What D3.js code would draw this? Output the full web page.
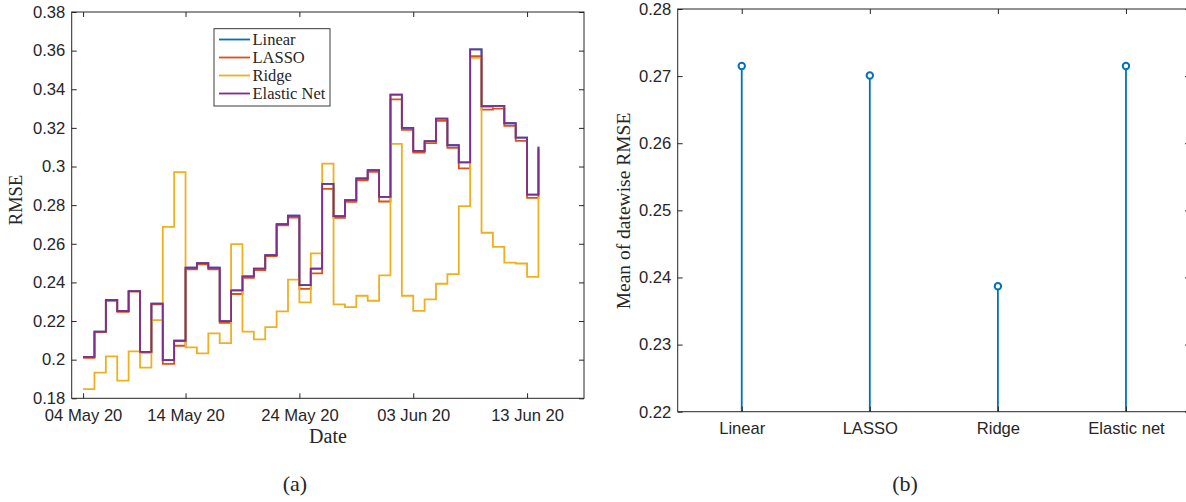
<!DOCTYPE html>
<html>
<head>
<meta charset="utf-8">
<script src="https://cdn.jsdelivr.net/npm/d3@7"></script>
<style>
  body { margin: 0; background: #fff; }
  svg { display: block; }
  .tick text { font-family: "Liberation Sans", Arial, sans-serif; font-size: 16.6px; fill: #262626; }
  .tick line { stroke: #262626; }
  .lbl { font-family: "Liberation Serif", "Times New Roman", serif; fill: #262626; }
</style>
</head>
<body>
<div id="chart"></div>
<script>
// ---- data ----
const seriesNames = ["Linear", "LASSO", "Ridge", "Elastic Net"];
const seriesColors = ["#0072BD", "#D95319", "#EDB120", "#7E2F8E"];

// one value per day, starting at day 1 of the axis
const linearRmse = [0.2014, 0.2145, 0.2309, 0.2252, 0.2355, 0.2040, 0.2290, 0.1998, 0.2098, 0.2476,
  0.2500, 0.2476, 0.2200, 0.2359, 0.2431, 0.2471, 0.2541, 0.2702, 0.2745, 0.2386,
  0.2471, 0.2910, 0.2743, 0.2826, 0.2938, 0.2981, 0.2843, 0.3372, 0.3200, 0.3081,
  0.3131, 0.3248, 0.3110, 0.3021, 0.3607, 0.3312, 0.3314, 0.3224, 0.3150, 0.2855, 0.3102];
const lassoRmse = [0.2010, 0.2143, 0.2305, 0.2248, 0.2352, 0.2036, 0.2286, 0.1978, 0.2072, 0.2467,
  0.2493, 0.2467, 0.2190, 0.2340, 0.2424, 0.2464, 0.2536, 0.2695, 0.2736, 0.2367,
  0.2447, 0.2884, 0.2734, 0.2817, 0.2929, 0.2972, 0.2819, 0.3348, 0.3190, 0.3072,
  0.3121, 0.3236, 0.3097, 0.2990, 0.3571, 0.3295, 0.3300, 0.3210, 0.3133, 0.2838, 0.3090];
const ridgeRmse = [0.1847, 0.1933, 0.2017, 0.1891, 0.2043, 0.1959, 0.2205, 0.2688, 0.2971, 0.2064,
  0.2033, 0.2136, 0.2086, 0.2598, 0.2145, 0.2105, 0.2169, 0.2250, 0.2414, 0.2297,
  0.2550, 0.3015, 0.2286, 0.2272, 0.2331, 0.2305, 0.2436, 0.3117, 0.2331, 0.2253,
  0.2312, 0.2393, 0.2443, 0.2795, 0.3562, 0.2657, 0.2584, 0.2502, 0.2498, 0.2429, 0.2843];
const elasticRmse = [0.2014, 0.2145, 0.2309, 0.2252, 0.2355, 0.2040, 0.2290, 0.1998, 0.2098, 0.2476,
  0.2500, 0.2476, 0.2200, 0.2359, 0.2431, 0.2471, 0.2541, 0.2702, 0.2745, 0.2386,
  0.2471, 0.2910, 0.2743, 0.2826, 0.2938, 0.2981, 0.2843, 0.3372, 0.3200, 0.3081,
  0.3131, 0.3248, 0.3110, 0.3021, 0.3607, 0.3312, 0.3314, 0.3224, 0.3150, 0.2855, 0.3102];

const dateTickDays = [1, 10, 20, 30, 40];
const dateTickLabels = ["04 May 20", "14 May 20", "24 May 20", "03 Jun 20", "13 Jun 20"];
const rmseTicks = [0.18, 0.2, 0.22, 0.24, 0.26, 0.28, 0.3, 0.32, 0.34, 0.36, 0.38];

const modelNames = ["Linear", "LASSO", "Ridge", "Elastic net"];
const meanRmse = [0.2715, 0.2701, 0.2387, 0.2715];
const meanTicks = [0.22, 0.23, 0.24, 0.25, 0.26, 0.27, 0.28];

// ---- layout ----
const W = 1186, H = 502;
const A = {left: 71.7, right: 584, top: 12, bottom: 398.3};
const B = {left: 677.7, right: 1190, top: 9, bottom: 411.7};
const axisColor = "#262626";
const fmt = v => String(+v.toFixed(2));

const svg = d3.select("#chart").append("svg")
  .attr("width", W)
  .attr("height", H);

function box(g, r) {
  g.append("rect")
    .attr("x", r.left).attr("y", r.top)
    .attr("width", r.right - r.left).attr("height", r.bottom - r.top)
    .attr("fill", "none").attr("stroke", axisColor).attr("stroke-width", 1);
}

function cleanAxis(g) {
  g.select(".domain").remove();
  g.selectAll(".tick line").attr("stroke", axisColor);
}

// ================= (a) stairs =================
const gA = svg.append("g");
const xA = d3.scaleLinear().domain([0, 45]).range([A.left, A.right]);
const yA = d3.scaleLinear().domain([0.18, 0.38]).range([A.bottom, A.top]);
const days = d3.range(1, linearRmse.length + 1);

const allSeries = [linearRmse, lassoRmse, ridgeRmse, elasticRmse];
const stair = d3.line()
  .x(d => xA(d[0]))
  .y(d => yA(d[1]))
  .curve(d3.curveStepAfter);

allSeries.forEach((vals, i) => {
  gA.append("path")
    .datum(days.map((d, k) => [d, vals[k]]))
    .attr("d", stair)
    .attr("fill", "none")
    .attr("stroke", seriesColors[i])
    .attr("stroke-width", 1.8);
});

gA.append("g").attr("transform", `translate(0,${A.bottom})`)
  .call(d3.axisBottom(xA).tickValues(dateTickDays)
    .tickFormat((d, i) => dateTickLabels[i]).tickSizeInner(-5).tickSizeOuter(0).tickPadding(11))
  .call(cleanAxis);
gA.append("g").attr("transform", `translate(0,${A.top})`)
  .call(d3.axisTop(xA).tickValues(dateTickDays).tickFormat("").tickSizeInner(-5).tickSizeOuter(0))
  .call(cleanAxis);
gA.append("g").attr("transform", `translate(${A.left},0)`)
  .call(d3.axisLeft(yA).tickValues(rmseTicks).tickFormat(fmt).tickSizeInner(-5).tickSizeOuter(0).tickPadding(6.5))
  .call(cleanAxis);
gA.append("g").attr("transform", `translate(${A.right},0)`)
  .call(d3.axisRight(yA).tickValues(rmseTicks).tickFormat("").tickSizeInner(-5).tickSizeOuter(0))
  .call(cleanAxis);
box(gA, A);

gA.append("text").attr("class", "lbl")
  .attr("transform", "translate(16,200) rotate(-90)")
  .attr("text-anchor", "middle").attr("dy", "0.33em")
  .style("font-size", "18.5px").text("RMSE");
gA.append("text").attr("class", "lbl")
  .attr("x", 328).attr("y", 436).attr("dy", "0.35em")
  .attr("text-anchor", "middle").style("font-size", "20px").text("Date");

// legend
const leg = gA.append("g");
leg.append("rect")
  .attr("x", 214).attr("y", 28.7).attr("width", 116).attr("height", 77.3)
  .attr("fill", "#fff").attr("stroke", axisColor).attr("stroke-width", 0.9);
seriesNames.forEach((name, i) => {
  const yy = 39.5 + i * 18;
  leg.append("line")
    .attr("x1", 219).attr("x2", 250).attr("y1", yy).attr("y2", yy)
    .attr("stroke", seriesColors[i]).attr("stroke-width", 1.8);
  leg.append("text").attr("class", "lbl")
    .attr("x", 252.5).attr("y", yy).attr("dy", "0.33em")
    .style("font-size", "16.5px").text(name);
});

svg.append("text").attr("class", "lbl")
  .attr("x", 295).attr("y", 484).attr("dy", "0.33em")
  .attr("text-anchor", "middle").style("font-size", "22px").text("(a)");

// ================= (b) stems =================
const gB = svg.append("g");
const xB = d3.scalePoint().domain(modelNames).range([B.left, B.right]).padding(0.5);
const yB = d3.scaleLinear().domain([0.22, 0.28]).range([B.bottom, B.top]);
const stemColor = "#0072BD";

gB.selectAll("line.stem")
  .data(modelNames)
  .join("line")
  .attr("class", "stem")
  .attr("x1", d => xB(d)).attr("x2", d => xB(d))
  .attr("y1", yB(yB.domain()[0]))
  .attr("y2", (d, i) => yB(meanRmse[i]))
  .attr("stroke", stemColor).attr("stroke-width", 1.8);

gB.selectAll("circle.mk")
  .data(modelNames)
  .join("circle")
  .attr("class", "mk")
  .attr("cx", d => xB(d))
  .attr("cy", (d, i) => yB(meanRmse[i]))
  .attr("r", 3.2)
  .attr("fill", "#fff").attr("stroke", stemColor).attr("stroke-width", 2);

gB.append("g").attr("transform", `translate(0,${B.bottom})`)
  .call(d3.axisBottom(xB).tickSizeInner(-5).tickSizeOuter(0).tickPadding(11))
  .call(cleanAxis);
gB.append("g").attr("transform", `translate(0,${B.top})`)
  .call(d3.axisTop(xB).tickFormat("").tickSizeInner(-5).tickSizeOuter(0))
  .call(cleanAxis);
gB.append("g").attr("transform", `translate(${B.left},0)`)
  .call(d3.axisLeft(yB).tickValues(meanTicks).tickFormat(fmt).tickSizeInner(-5).tickSizeOuter(0).tickPadding(6.5))
  .call(cleanAxis);
gB.append("g").attr("transform", `translate(${B.right},0)`)
  .call(d3.axisRight(yB).tickValues(meanTicks).tickFormat("").tickSizeInner(-5).tickSizeOuter(0))
  .call(cleanAxis);
box(gB, B);

gB.append("text").attr("class", "lbl")
  .attr("transform", "translate(624,211) rotate(-90)")
  .attr("text-anchor", "middle").attr("dy", "0.33em")
  .style("font-size", "19.5px").text("Mean of datewise RMSE");

svg.append("text").attr("class", "lbl")
  .attr("x", 905).attr("y", 484).attr("dy", "0.33em")
  .attr("text-anchor", "middle").style("font-size", "22px").text("(b)");
</script>
</body>
</html>
